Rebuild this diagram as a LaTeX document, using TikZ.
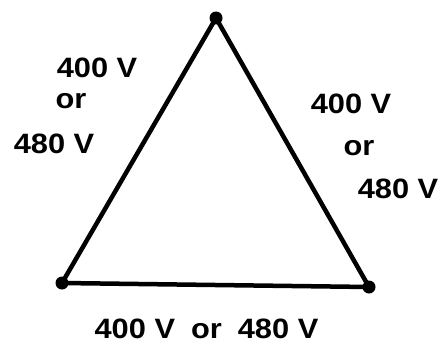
\documentclass[tikz,border=0pt]{standalone}
\usepackage{fontspec}
\setmainfont{Liberation Sans}[FakeStretch=1.1]
\begin{document}
\begin{tikzpicture}[x=1pt,y=-1pt,
  wire/.style={line width=4.5pt,line join=round},
  dot/.style={circle,fill=black,inner sep=0pt,minimum size=13pt},
  lbl/.style={anchor=base,inner sep=0pt,font=\fontsize{28}{30}\selectfont\bfseries}]
\useasboundingbox (0,0) rectangle (441,345);
\coordinate (T) at (216,18);
\coordinate (L) at (62,283);
\coordinate (R) at (369,287);
\draw[wire] (T) -- (L) -- (R) -- cycle;
\node[dot] (dt) at (T) {};
\node[dot] (dl) at (L) {};
\node[dot] (dr) at (R) {};
\node[lbl] (l1) at (97,77) {400 V};
\node[lbl] (l2) at (71,108) {or};
\node[lbl] (l3) at (54,153) {480 V};
\node[lbl] (r1) at (351,113) {400 V};
\node[lbl] (r2) at (359,155) {or};
\node[lbl] (r3) at (398,198) {480 V};
\node[lbl] (b1) at (206.5,338) {400 V\hspace{16pt}or\hspace{16pt}480 V};
\end{tikzpicture}
\end{document}
